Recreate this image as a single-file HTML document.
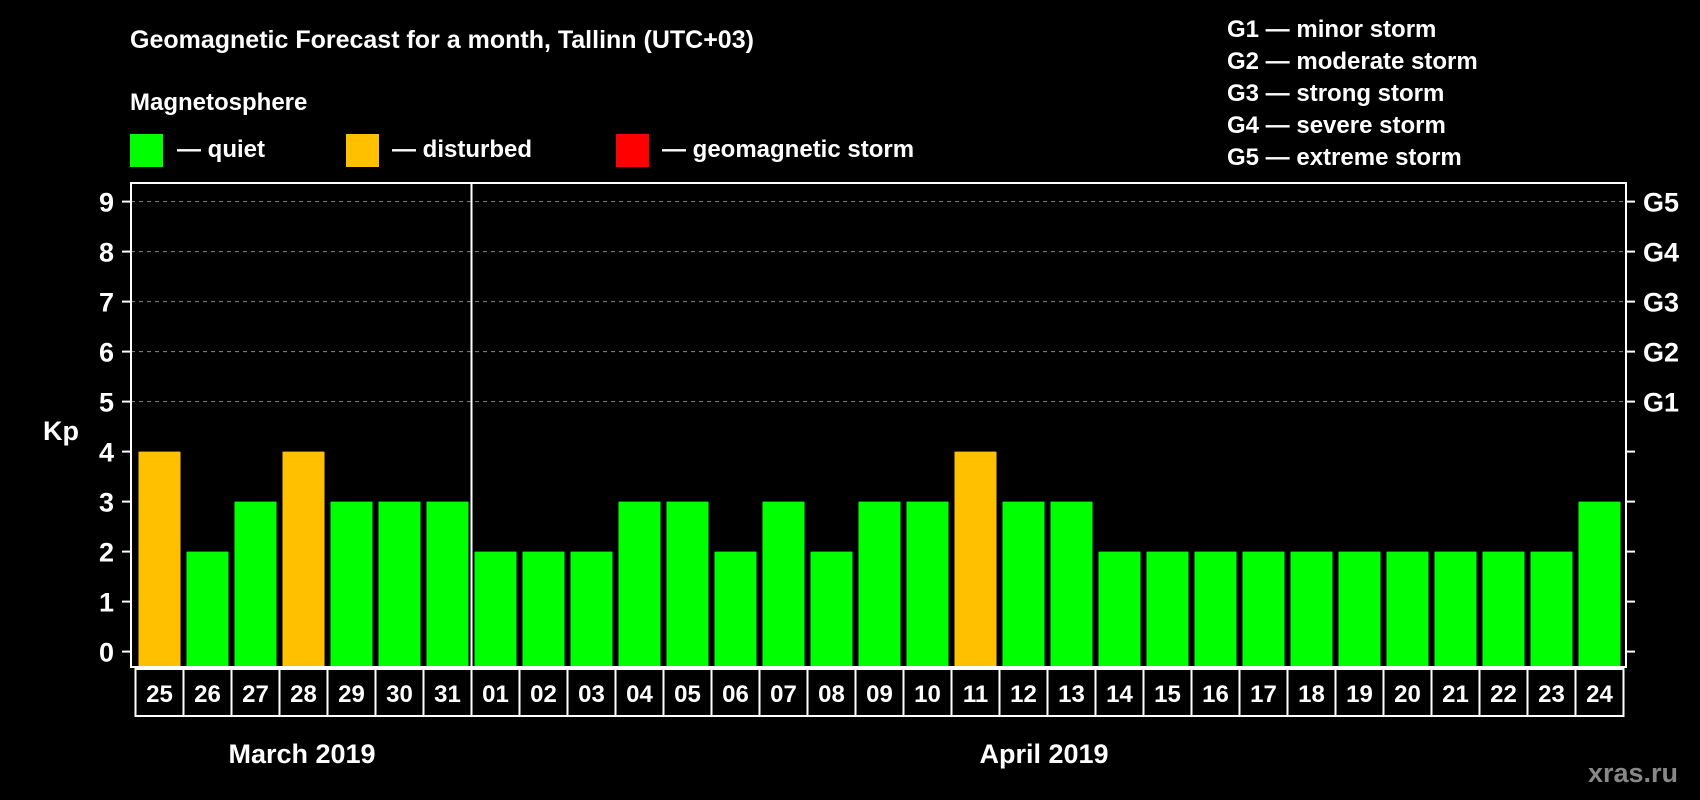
<!DOCTYPE html>
<html><head><meta charset="utf-8"><style>
html,body{margin:0;padding:0;background:#000;}
svg{display:block;font-family:"Liberation Sans",Arial,sans-serif;font-weight:bold;}
</style></head><body>
<svg id="chart" width="1700" height="800" viewBox="0 0 1700 800">
<rect width="1700" height="800" fill="#000"/>
<text x="130" y="48" fill="#fff" font-size="25">Geomagnetic Forecast for a month, Tallinn (UTC+03)</text>
<text x="130" y="110" fill="#fff" font-size="24">Magnetosphere</text>
<g><rect x="130" y="134" width="33" height="33" fill="#00ff00"/><text x="177" y="157" fill="#fff" font-size="24">— quiet</text></g>
<g><rect x="346" y="134" width="33" height="33" fill="#ffc000"/><text x="392" y="157" fill="#fff" font-size="24">— disturbed</text></g>
<g><rect x="616" y="134" width="33" height="33" fill="#ff0000"/><text x="662" y="157" fill="#fff" font-size="24">— geomagnetic storm</text></g>
<g fill="#fff" font-size="24">
<text x="1227" y="37">G1 — minor storm</text>
<text x="1227" y="69">G2 — moderate storm</text>
<text x="1227" y="101">G3 — strong storm</text>
<text x="1227" y="133">G4 — severe storm</text>
<text x="1227" y="165">G5 — extreme storm</text>
</g>
<text x="43" y="440" fill="#fff" font-size="27">Kp</text>
<text x="1678" y="782" fill="#888" font-size="27" text-anchor="end">xras.ru</text>
<text x="302" y="763" fill="#fff" font-size="27" text-anchor="middle">March 2019</text>
<text x="1044" y="763" fill="#fff" font-size="27" text-anchor="middle">April 2019</text>
<g id="plot"></g>
</svg>
<script>
const days = ["25","26","27","28","29","30","31","01","02","03","04","05","06","07","08","09","10","11","12","13","14","15","16","17","18","19","20","21","22","23","24"];
const kp = [4,2,3,4,3,3,3,2,2,2,3,3,2,3,2,3,3,4,3,3,2,2,2,2,2,2,2,2,2,2,3];
const yTicks = [0,1,2,3,4,5,6,7,8,9];
const gLabels = ["G1","G2","G3","G4","G5"];
const gLevels = [5,6,7,8,9];
const NS="http://www.w3.org/2000/svg";
const g=document.getElementById('plot');
const L=131,R=1626,T=183,B=667,x0=135.5,bw=48;
function y(v){return 651.6-v*50;}
function xb(i){return x0+i*bw;}
function mk(t,a){const e=document.createElementNS(NS,t);for(const k in a)e.setAttribute(k,a[k]);g.appendChild(e);return e;}
// grid
gLevels.forEach(v=>{const e=mk('line',{x1:L,x2:R,y1:y(v),y2:y(v),stroke:'#888','stroke-dasharray':'4,4','stroke-width':1});

});
// bars
kp.forEach((v,i)=>{const c=v>=5?'#ff0000':(v>=4?'#ffc000':'#00ff00');
const r=mk('rect',{x:xb(i)+3,y:y(v),width:42,height:y(0)-y(v)+15.4,fill:c});


const b=mk('rect',{x:xb(i),y:B+2,width:bw,height:47,fill:'none',stroke:'#fff','stroke-width':2});


const t=mk('text',{x:xb(i)+bw/2,y:B+35,fill:'#fff','font-size':24,'text-anchor':'middle'});t.textContent=days[i];

});
// frame
const f=mk('rect',{x:L,y:T,width:R-L,height:B-T,fill:'none',stroke:'#fff','stroke-width':2});


const dv=mk('line',{x1:xb(7),x2:xb(7),y1:T,y2:B,stroke:'#fff','stroke-width':2});


yTicks.forEach(v=>{mk('line',{x1:L-9,x2:L,y1:y(v),y2:y(v),stroke:'#fff','stroke-width':2});
mk('line',{x1:R,x2:R+9,y1:y(v),y2:y(v),stroke:'#fff','stroke-width':2});
const t=mk('text',{x:114,y:y(v)+10,fill:'#fff','font-size':27,'text-anchor':'end'});t.textContent=v;

});
gLabels.forEach((s,i)=>{const t=mk('text',{x:1643,y:y(gLevels[i])+10,fill:'#fff','font-size':27});t.textContent=s;

});
</script>
</body></html>
